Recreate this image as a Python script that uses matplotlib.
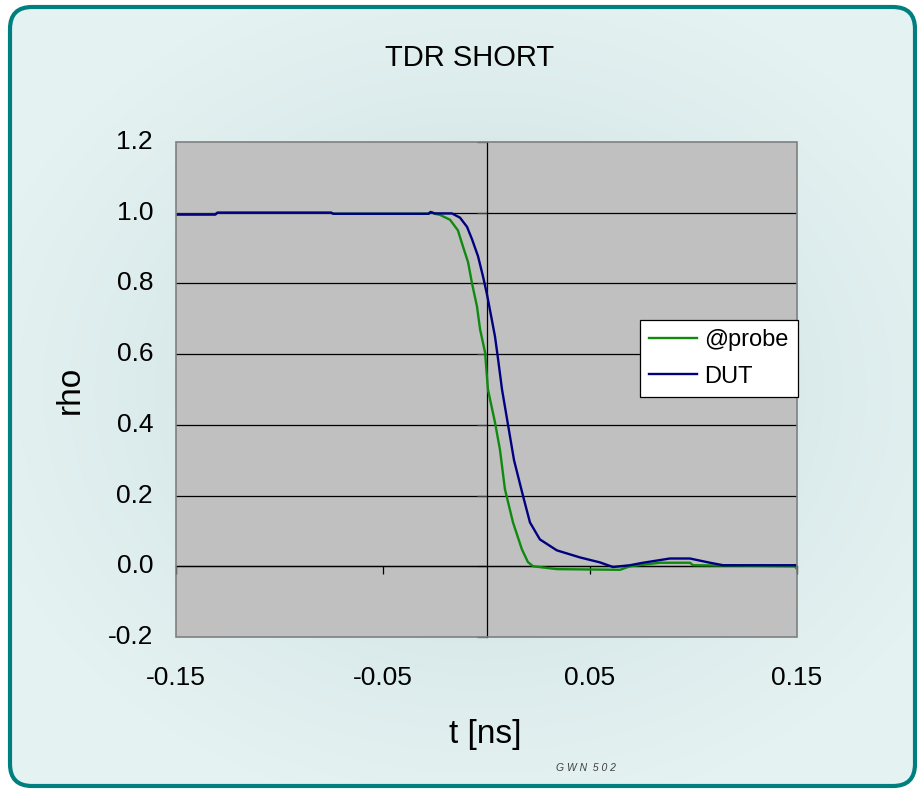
import numpy as np
import matplotlib
matplotlib.use("Agg")
import matplotlib.pyplot as plt
from matplotlib.patches import FancyBboxPatch, Rectangle
import matplotlib.transforms as mtransforms

plt.rcParams['font.family'] = ['Liberation Sans', 'DejaVu Sans']

# ---- data ----
t_probe = [-0.150, -0.131, -0.130, -0.075, -0.074, -0.028, -0.027, -0.025, -0.0225, -0.0176,
           -0.0138, -0.0114, -0.0089, -0.0070, -0.0046, -0.0031, -0.0007, 0.0007,
           0.0041, 0.0065, 0.0089, 0.0128, 0.0171, 0.0200, 0.0225, 0.0340,
           0.0645, 0.0693, 0.0838, 0.0983, 0.0998, 0.1490, 0.1500]
rho_probe = [0.995, 0.995, 1.000, 1.000, 0.997, 0.997, 1.002, 0.997, 0.994, 0.980,
             0.950, 0.905, 0.860, 0.800, 0.735, 0.670, 0.605, 0.500,
             0.407, 0.330, 0.218, 0.124, 0.048, 0.012, 0.000, -0.008,
             -0.010, 0.000, 0.010, 0.010, 0.003, 0.000, -0.008]

t_dut = [-0.150, -0.131, -0.130, -0.075, -0.074, -0.028, -0.027, -0.025, -0.0167,
         -0.0128, -0.0094, -0.0070, -0.0041, -0.0017, 0.0002, 0.0020, 0.0041,
         0.0055, 0.0075, 0.0104, 0.0133, 0.0176, 0.0210, 0.0258, 0.0340,
         0.0452, 0.0548, 0.0611, 0.0693, 0.0756, 0.0886, 0.0983, 0.1080, 0.1143, 0.1500]
rho_dut = [0.995, 0.995, 1.000, 1.000, 0.997, 0.997, 1.002, 0.998, 0.998,
           0.986, 0.960, 0.925, 0.877, 0.820, 0.770, 0.715, 0.650,
           0.590, 0.500, 0.400, 0.300, 0.200, 0.124, 0.076, 0.045,
           0.025, 0.011, -0.002, 0.003, 0.010, 0.022, 0.022, 0.010, 0.003, 0.003]

x_ticks = [-0.15, -0.05, 0.05, 0.15]
y_ticks = [-0.2, 0.0, 0.2, 0.4, 0.6, 0.8, 1.0, 1.2]

W, H = 917, 789
fig = plt.figure(figsize=(W / 100, H / 100), dpi=100)
fig.patch.set_facecolor('white')

# ---- background panel with gradient ----
bg = fig.add_axes([0, 0, 1, 1], zorder=-10)
bg.set_xlim(0, W)
bg.set_ylim(H, 0)
bg.axis('off')
yy, xx = np.mgrid[0:H, 0:W]
d = np.sqrt(((xx - 480) / 520.0) ** 2 + ((yy - 390) / 430.0) ** 2)
d = np.clip(d, 0, 1)
c_in = np.array([0.79, 0.87, 0.87])
c_out = np.array([0.90, 0.95, 0.95])
img = c_in[None, None, :] * (1 - d[..., None]) + c_out[None, None, :] * d[..., None]
im = bg.imshow(img, extent=(0, W, H, 0), zorder=0)
panel = FancyBboxPatch((10, 7), W - 12, H - 10, boxstyle="round,pad=0,rounding_size=22",
                       facecolor='none', edgecolor='#007f7f', linewidth=3, zorder=2)
bg.add_patch(panel)
clip = FancyBboxPatch((10, 7), W - 12, H - 10, boxstyle="round,pad=0,rounding_size=22",
                      transform=bg.transData, facecolor='none', edgecolor='none')
bg.add_patch(clip)
im.set_clip_path(clip)

# ---- main axes ----
L, R, T, B = 176, 797, 142, 637
ax = fig.add_axes([L / W, 1 - B / H, (R - L) / W, (B - T) / H])
ax.set_facecolor('#c0c0c0')
ax.set_xlim(-0.15, 0.15)
ax.set_ylim(-0.2, 1.2)

for yv in y_ticks[1:-1]:
    ax.axhline(yv, color='black', lw=0.9, zorder=1)

ax.plot(t_probe, rho_probe, color='#0f8a0f', lw=1.7, label='@probe', zorder=3)
ax.plot(t_dut, rho_dut, color='#000080', lw=1.7, label='DUT', zorder=3)

# axes crossing at zero
ax.spines['left'].set_position(('data', 0))
ax.spines['bottom'].set_position(('data', 0))
ax.spines['left'].set_color('black')
ax.spines['bottom'].set_color('black')
ax.spines['left'].set_linewidth(0.9)
ax.spines['bottom'].set_linewidth(0.9)
ax.spines['top'].set_visible(False)
ax.spines['right'].set_visible(False)
ax.add_patch(Rectangle((0, 0), 1, 1, transform=ax.transAxes, fill=False,
                       edgecolor='#808080', lw=1.2, zorder=4, clip_on=False))

ax.set_xticks(x_ticks)
ax.set_yticks(y_ticks)
ax.tick_params(axis='x', direction='out', length=6, width=0.9, color='black',
               labelbottom=False)
ax.tick_params(axis='y', direction='out', length=7, width=0.9, color='#404040',
               labelleft=False)

tx = mtransforms.blended_transform_factory(ax.transData, ax.transAxes)
for xv in x_ticks:
    ax.text(xv, -0.083, f"{xv:.2f}", transform=tx, ha='center', va='center',
            fontsize=19)
ty = mtransforms.blended_transform_factory(ax.transAxes, ax.transData)
for yv in y_ticks:
    ax.text(-0.037, yv, f"{yv:.1f}", transform=ty, ha='right', va='center',
            fontsize=19)

leg = ax.legend(loc='upper left', bbox_to_anchor=((640 - L) / (R - L), 1 - (320 - T) / (B - T)),
                frameon=True, fancybox=False, fontsize=17, handlelength=2.0,
                borderaxespad=0, borderpad=0.4, labelspacing=0.6, handletextpad=0.3,
                framealpha=1, facecolor='white')
leg.get_frame().set_edgecolor('black')
leg.get_frame().set_linewidth(0.9)
leg.set_zorder(5)

fig.text(470 / W, 1 - 58 / H, 'TDR SHORT', ha='center', va='center', fontsize=21)
fig.text(70 / W, 1 - 390 / H, 'rho', ha='center', va='center', fontsize=24, rotation=90)
fig.text(485 / W, 1 - 734 / H, 't [ns]', ha='center', va='center', fontsize=24)
fig.text(586 / W, 1 - 768 / H, 'G W N  5 0 2', ha='center', va='center', fontsize=7.5,
         style='italic', color='#404040')

fig.savefig('out.png', dpi=100)
